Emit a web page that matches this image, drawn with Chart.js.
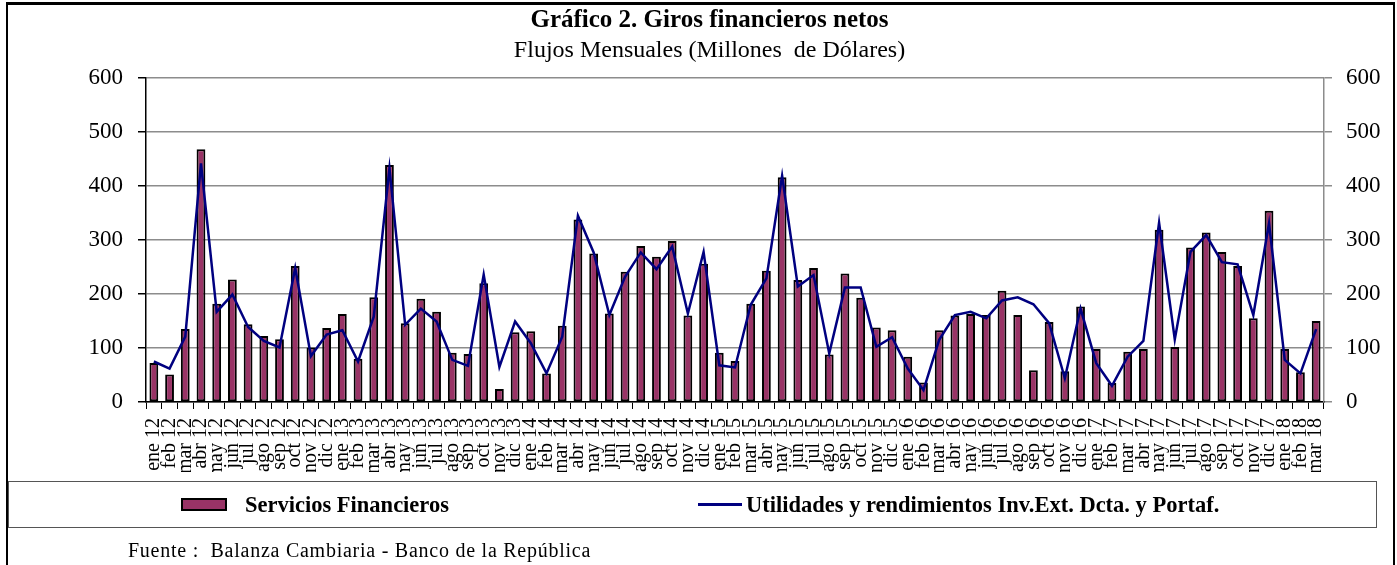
<!DOCTYPE html>
<html lang="es">
<head>
<meta charset="UTF-8">
<title>Giros financieros netos</title>
<script src="https://cdn.jsdelivr.net/npm/chart.js@4.4.1/dist/chart.umd.min.js"></script>
<style>
  html, body { margin: 0; padding: 0; background: #fff; }
  body { width: 1397px; height: 565px; overflow: hidden; position: relative;
         font-family: 'Liberation Serif', 'Times New Roman', serif; color: #000; }
  #frame { position: absolute; left: 6px; top: 2px; width: 1385px; height: 600px;
           border: 2px solid #000; border-top-width: 3px; }
  #grafico { position: absolute; left: 0; top: 0; }
  #legend { position: absolute; left: 8px; top: 481px; width: 1367px; height: 45px;
            border: 1.5px solid #555; }
  .item { position: absolute; top: 0; height: 45px; display: flex; align-items: center;
          font-weight: bold; font-size: 22.5px; white-space: nowrap; }
  .mk-box { display: inline-block; width: 42px; height: 9px; border: 2px solid #000; margin-right: 18px; }
  .mk-line { display: inline-block; width: 44px; height: 3px; margin-right: 4px; }
  #note { position: absolute; left: 128px; top: 538px; font-size: 20px; line-height: 24px;
          letter-spacing: 0.75px; white-space: pre; }
</style>
</head>
<body>
<div id="frame"></div>
<canvas id="grafico" width="1397" height="565"></canvas>
<div id="legend"></div>
<div id="note">Fuente :  Balanza Cambiaria - Banco de la República</div>

<script>
// meses y años del eje de categorías (ene 12 ... mar 18)
const meses = ['ene', 'feb', 'mar', 'abr', 'may', 'jun', 'jul', 'ago', 'sep', 'oct', 'nov', 'dic'];
const anios = ['12', '13', '14', '15', '16', '17', '18'];
const nMeses = 75;

// Servicios Financieros (millones de USD)
const servicios = [
  72, 51, 135, 468, 182, 227, 144, 122, 116, 252, 101, 137,   // 2012
  163, 80, 194, 439, 146, 191, 167, 91, 89, 220, 24, 129,     // 2013
  131, 53, 141, 338, 275, 164, 241, 289, 269, 298, 160, 256,  // 2014
  91, 76, 182, 243, 416, 226, 248, 88, 238, 193, 138, 133,    // 2015
  84, 36, 133, 160, 163, 161, 206, 161, 59, 148, 57, 177,     // 2016
  98, 35, 93, 98, 319, 102, 286, 314, 278, 252, 155, 354,     // 2017
  98, 55, 150                                                 // 2018
];

// Utilidades y rendimientos Inv.Ext. Dcta. y Portaf.
const utilidades = [
  75, 62, 121, 442, 167, 199, 139, 113, 101, 248, 85, 125,
  133, 75, 158, 433, 143, 173, 149, 78, 67, 236, 65, 149,
  109, 53, 121, 345, 277, 161, 232, 277, 246, 288, 164, 278,
  68, 64, 180, 229, 419, 214, 235, 90, 212, 212, 102, 120,
  62, 22, 115, 161, 167, 155, 188, 194, 181, 146, 44, 173,
  72, 30, 84, 113, 332, 116, 278, 309, 259, 255, 161, 331,
  78, 53, 135
];

const etiquetas = [];
anios.forEach(a => meses.forEach(m => {
  if (etiquetas.length < nMeses) etiquetas.push(m + ' ' + a);
}));

Chart.defaults.font.family = "'Liberation Serif', 'Times New Roman', serif";
Chart.defaults.color = '#000';

// posiciones de los dos elementos dentro del recuadro de la leyenda
const leyendaX = [172, 689];

// leyenda en HTML, construida a partir de los datasets
const leyendaHtml = {
  id: 'leyendaHtml',
  afterUpdate(chart) {
    const box = document.getElementById('legend');
    box.innerHTML = '';
    const items = chart.options.plugins.legend.labels.generateLabels(chart)
      .sort((a, b) => a.datasetIndex - b.datasetIndex);
    items.forEach((it, i) => {
      const ds = chart.data.datasets[it.datasetIndex];
      const el = document.createElement('div');
      el.className = 'item';
      el.style.left = leyendaX[i] + 'px';
      const mk = document.createElement('span');
      if (ds.type === 'line') {
        mk.className = 'mk-line';
        mk.style.background = ds.borderColor;
      } else {
        mk.className = 'mk-box';
        mk.style.background = ds.backgroundColor;
        mk.style.borderColor = ds.borderColor;
      }
      el.appendChild(mk);
      el.appendChild(document.createTextNode(it.text));
      box.appendChild(el);
    });
  }
};

new Chart(document.getElementById('grafico'), {
  data: {
    labels: etiquetas,
    datasets: [{
      type: 'bar',
      label: 'Servicios Financieros',
      data: servicios,
      backgroundColor: '#993366',
      borderColor: '#000',
      borderWidth: 2,
      borderSkipped: false,
      barPercentage: 0.56,
      categoryPercentage: 1,
      yAxisID: 'y',
      order: 2
    }, {
      type: 'line',
      label: 'Utilidades y rendimientos Inv.Ext. Dcta. y Portaf.',
      data: utilidades,
      borderColor: '#000080',
      backgroundColor: '#000080',
      borderWidth: 2.5,
      pointRadius: 0,
      tension: 0,
      yAxisID: 'y2',
      order: 1
    }]
  },
  options: {
    responsive: false,
    animation: false,
    devicePixelRatio: 1,
    layout: { padding: { left: 22, right: 0, top: 0, bottom: 93 } },
    scales: {
      x: {
        grid: { offset: true, drawOnChartArea: false, tickLength: 7, color: '#000', lineWidth: 1 },
        border: { color: '#000', width: 1.5 },
        ticks: { autoSkip: false, minRotation: 90, maxRotation: 90, padding: 9,
                 font: { size: 20 } },
        afterFit(s) { s.height = 70; }
      },
      y: {
        position: 'left',
        min: 0, max: 600,
        ticks: { stepSize: 100, padding: 15, font: { size: 23 } },
        grid: { color: '#8c8c8c', lineWidth: 1.5, tickLength: 8, tickColor: '#000' },
        border: { color: '#000', width: 1.5 },
        afterFit(s) { s.width = 124; }
      },
      y2: {
        position: 'right',
        min: 0, max: 600,
        ticks: { stepSize: 100, padding: 14, font: { size: 23 } },
        grid: { drawOnChartArea: false, tickLength: 8, tickColor: '#8c8c8c', lineWidth: 1.5 },
        border: { color: '#8c8c8c', width: 1.5 },
        afterFit(s) { s.width = 73; }
      }
    },
    plugins: {
      title: {
        display: true,
        text: 'Gráfico 2. Giros financieros netos',
        font: { size: 25, weight: 'bold' },
        padding: { top: 6, bottom: 0 }
      },
      subtitle: {
        display: true,
        text: 'Flujos Mensuales (Millones  de Dólares)',
        color: '#000',
        font: { size: 24 },
        padding: { top: 0, bottom: 13.2 }
      },
      legend: { display: false },
      tooltip: { enabled: false }
    }
  },
  plugins: [leyendaHtml]
});
</script>
</body>
</html>
